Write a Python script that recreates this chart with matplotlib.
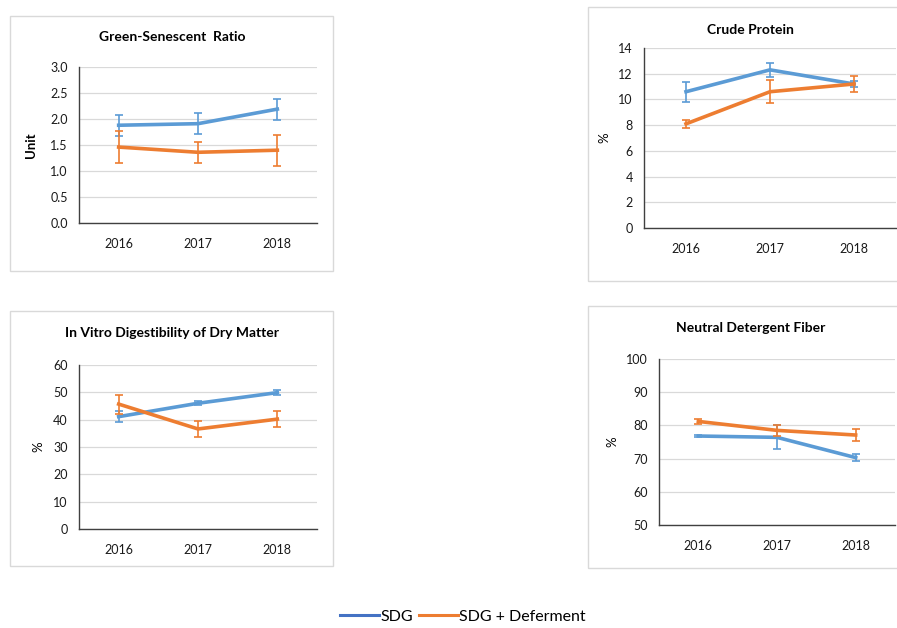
import matplotlib.pyplot as plt
from matplotlib.lines import Line2D
from matplotlib.patches import Rectangle

plt.rcParams['font.family'] = ['Lato', 'DejaVu Sans']

years = ['2016', '2017', '2018']

# Green-Senescent ratio
gsr_sdg = [1.88, 1.91, 2.19]
gsr_sdg_err = [0.2, 0.2, 0.2]
gsr_def = [1.46, 1.36, 1.40]
gsr_def_err = [0.3, 0.2, 0.3]

# Crude protein (%)
cp_sdg = [10.6, 12.3, 11.2]
cp_sdg_err = [0.78, 0.53, 0.25]
cp_def = [8.1, 10.6, 11.2]
cp_def_err = [0.33, 0.88, 0.65]

# In vitro digestibility of dry matter (%)
ivd_sdg = [41.1, 46.0, 49.9]
ivd_sdg_err = [2.1, 0.8, 1.0]
ivd_def = [45.7, 36.6, 40.2]
ivd_def_err = [3.5, 2.9, 3.0]

# Neutral detergent fiber (%)
ndf_sdg = [76.8, 76.4, 70.3]
ndf_sdg_err = [0.4, 3.6, 1.0]
ndf_def = [81.2, 78.5, 77.1]
ndf_def_err = [0.8, 1.7, 1.8]

BLUE = '#5B9BD5'
ORANGE = '#ED7D31'
W, H = 897, 628

fig = plt.figure(figsize=(W / 100, H / 100), dpi=100)


def px_box(x0, y0, x1, y1):
    return [x0 / W, 1 - y1 / H, (x1 - x0) / W, (y1 - y0) / H]


def panel(frame, axbox, title, title_xy, sdg, sdg_err, dfr, dfr_err,
          ylim, step, ylabel, ylabel_x, fmt, bold_ylabel=False):
    x0, y0, x1, y1 = frame
    fig.patches.append(Rectangle((x0 / W, 1 - y1 / H), (x1 - x0) / W, (y1 - y0) / H,
                                 transform=fig.transFigure, facecolor='none',
                                 edgecolor='#d9d9d9', lw=1.0))
    ax = fig.add_axes(px_box(*axbox))
    xs = range(len(years))
    ax.errorbar(xs, sdg, yerr=sdg_err, color=BLUE, lw=2.6, elinewidth=1.2,
                capsize=3, capthick=1.2, zorder=3)
    ax.errorbar(xs, dfr, yerr=dfr_err, color=ORANGE, lw=2.6, elinewidth=1.2,
                capsize=3, capthick=1.2, zorder=4)
    ax.set_xlim(-0.5, 2.5)
    ax.set_ylim(*ylim)
    ticks = []
    v = ylim[0]
    while v <= ylim[1] + 1e-9:
        ticks.append(v)
        v += step
    ax.set_yticks(ticks)
    ax.set_yticklabels([fmt.format(t) for t in ticks])
    ax.set_xticks(list(xs))
    ax.set_xticklabels(years)
    ax.tick_params(length=0, labelsize=9, colors='#1a1a1a')
    ax.tick_params(axis='y', pad=8)
    ax.tick_params(axis='x', pad=11)
    ax.grid(axis='y', color='#d9d9d9', lw=0.9)
    ax.set_axisbelow(True)
    for s in ['top', 'right']:
        ax.spines[s].set_visible(False)
    for s in ['left', 'bottom']:
        ax.spines[s].set_color('#404040')
        ax.spines[s].set_linewidth(1.0)
    fig.text(title_xy[0] / W, 1 - title_xy[1] / H, title, ha='center', va='center',
             fontsize=10, fontweight='bold')
    fig.text(ylabel_x / W, 1 - ((axbox[1] + axbox[3]) / 2) / H, ylabel, rotation=90,
             ha='center', va='center', fontsize=9.5,
             fontweight='bold' if bold_ylabel else 'normal')
    return ax


panel((10, 16, 333, 271), (79, 67, 317, 223), 'Green-Senescent  Ratio', (172, 37),
      gsr_sdg, gsr_sdg_err, gsr_def, gsr_def_err, (0, 3), 0.5, 'Unit', 31, '{:.1f}',
      bold_ylabel=True)
panel((588, 7, 905, 281), (644, 48, 896, 228), 'Crude Protein', (750, 30),
      cp_sdg, cp_sdg_err, cp_def, cp_def_err, (0, 14), 2, '%', 604, '{:.0f}')
panel((10, 311, 333, 566), (79, 365, 317, 529), 'In Vitro Digestibility of Dry Matter',
      (172, 333), ivd_sdg, ivd_sdg_err, ivd_def, ivd_def_err, (0, 60), 10, '%', 38, '{:.0f}')
panel((588, 306, 905, 568), (659, 359, 895, 525), 'Neutral Detergent Fiber', (751, 328),
      ndf_sdg, ndf_sdg_err, ndf_def, ndf_def_err, (50, 100), 10, '%', 612, '{:.0f}')

handles = [Line2D([], [], color='#4472C4', lw=2.2),
           Line2D([], [], color=ORANGE, lw=2.2)]
fig.legend(handles, ['SDG', 'SDG + Deferment'], loc='center', ncol=2,
           bbox_to_anchor=(463 / W, 1 - 617 / H), frameon=False, fontsize=11.5,
           handlelength=2.4, handletextpad=0.1, columnspacing=0.4)

fig.savefig('out.png', dpi=100)
